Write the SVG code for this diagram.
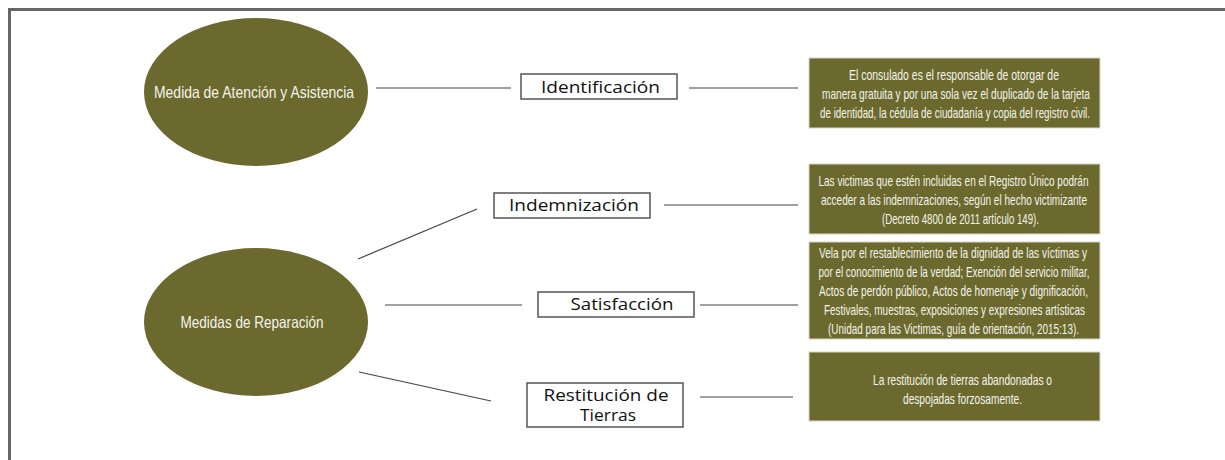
<svg xmlns="http://www.w3.org/2000/svg" width="1225" height="460" viewBox="0 0 1225 460">
<style>
.frame{fill:none;stroke:#666;stroke-width:3}
.oval{fill:#6b692d}
.desc{fill:#6b692d;stroke:#d8d8c8;stroke-width:1}
.lbl{fill:#fff;stroke:#555;stroke-width:1.5}
.conn line{stroke:#444;stroke-width:1.2}
.ot{font-family:"Liberation Sans",Arial,sans-serif;font-size:16.5px;fill:#f4f4ec;text-anchor:middle}
.dt{font-family:"Liberation Sans",Arial,sans-serif;font-size:15px;fill:#f4f4ec;text-anchor:middle}
.lt{font-family:"Open Sans","DejaVu Sans",sans-serif;font-size:15.5px;fill:#111;text-anchor:middle}
</style>
<rect width="1225" height="460" fill="#fff"/>
<path class="frame" d="M9.5,460 V9.5 H1225"/>

<g class="conn">
<line x1="376" y1="88" x2="511" y2="88"/>
<line x1="689" y1="88" x2="798" y2="88"/>
<line x1="358" y1="259" x2="477" y2="209"/>
<line x1="664" y1="205" x2="798" y2="205"/>
<line x1="385" y1="305" x2="522" y2="305"/>
<line x1="700" y1="305" x2="798" y2="305"/>
<line x1="359" y1="372" x2="491" y2="401"/>
<line x1="700" y1="397" x2="793" y2="397"/>
</g>

<g id="n-atencion">
<ellipse class="oval" cx="256" cy="92" rx="112" ry="74"/>
<text class="ot" x="254" y="98" textLength="200" lengthAdjust="spacingAndGlyphs">Medida de Atención y Asistencia</text>
</g>
<g id="n-reparacion">
<ellipse class="oval" cx="256" cy="322" rx="112" ry="74"/>
<text class="ot" x="252" y="328" textLength="143" lengthAdjust="spacingAndGlyphs">Medidas de Reparación</text>
</g>

<g id="n-identificacion">
<rect class="lbl" x="521" y="74" width="156" height="25"/>
<text class="lt" x="600.5" y="93" textLength="119" lengthAdjust="spacingAndGlyphs">Identificación</text>
</g>
<g id="n-indemnizacion">
<rect class="lbl" x="494" y="193" width="156" height="25"/>
<text class="lt" x="574" y="211" textLength="130" lengthAdjust="spacingAndGlyphs">Indemnización</text>
</g>
<g id="n-satisfaccion">
<rect class="lbl" x="538" y="292" width="156" height="25"/>
<text class="lt" x="622" y="310" textLength="103" lengthAdjust="spacingAndGlyphs">Satisfacción</text>
</g>
<g id="n-restitucion">
<rect class="lbl" x="527" y="383" width="156" height="44"/>
<text class="lt" x="606" y="401" textLength="125" lengthAdjust="spacingAndGlyphs">Restitución de</text>
<text class="lt" x="608" y="421" textLength="56" lengthAdjust="spacingAndGlyphs">Tierras</text>
</g>

<g id="d-identificacion">
<rect class="desc" x="809" y="58" width="291" height="70"/>
<text class="dt" x="954" y="80" textLength="210" lengthAdjust="spacingAndGlyphs">El consulado es el responsable de otorgar de</text>
<text class="dt" x="956" y="99" textLength="268" lengthAdjust="spacingAndGlyphs">manera gratuita y por una sola vez el duplicado de la tarjeta</text>
<text class="dt" x="955" y="118" textLength="270" lengthAdjust="spacingAndGlyphs">de identidad, la cédula de ciudadanía y copia del registro civil.</text>
</g>
<g id="d-indemnizacion">
<rect class="desc" x="809" y="164" width="291" height="70"/>
<text class="dt" x="953.5" y="186" textLength="270" lengthAdjust="spacingAndGlyphs">Las victimas que estén incluidas en el Registro Único podrán</text>
<text class="dt" x="954" y="205" textLength="266" lengthAdjust="spacingAndGlyphs">acceder a las indemnizaciones, según el hecho victimizante</text>
<text class="dt" x="960.5" y="224" textLength="157" lengthAdjust="spacingAndGlyphs">(Decreto 4800 de 2011 artículo 149).</text>
</g>
<g id="d-satisfaccion">
<rect class="desc" x="809" y="242" width="291" height="97"/>
<text class="dt" x="953" y="258" textLength="268" lengthAdjust="spacingAndGlyphs">Vela por el restablecimiento de la dignidad de las víctimas y</text>
<text class="dt" x="954" y="277" textLength="271" lengthAdjust="spacingAndGlyphs">por el conocimiento de la verdad; Exención del servicio militar,</text>
<text class="dt" x="953.5" y="296" textLength="269" lengthAdjust="spacingAndGlyphs">Actos de perdón público, Actos de homenaje y dignificación,</text>
<text class="dt" x="954.5" y="315" textLength="261" lengthAdjust="spacingAndGlyphs">Festivales, muestras, exposiciones y expresiones artísticas</text>
<text class="dt" x="953.5" y="334" textLength="251" lengthAdjust="spacingAndGlyphs">(Unidad para las Victimas, guía de orientación, 2015:13).</text>
</g>
<g id="d-restitucion">
<rect class="desc" x="809" y="352" width="291" height="69"/>
<text class="dt" x="962.5" y="385" textLength="179" lengthAdjust="spacingAndGlyphs">La restitución de tierras abandonadas o</text>
<text class="dt" x="962.5" y="404" textLength="119" lengthAdjust="spacingAndGlyphs">despojadas forzosamente.</text>
</g>
</svg>
